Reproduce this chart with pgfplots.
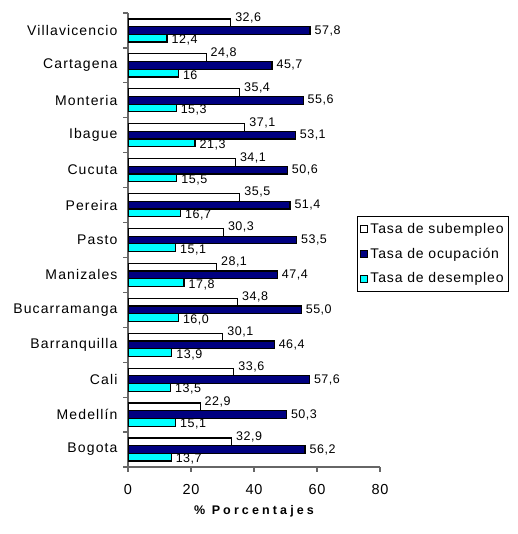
\documentclass[border=0pt]{standalone}
\usepackage{fontspec}
\setmainfont{Liberation Sans}[LetterSpace=8]
\newfontfamily\xlabfont{Liberation Sans Bold}[LetterSpace=25]
\newfontfamily\numfont{Liberation Sans}[LetterSpace=4]
\newfontfamily\legfont{Liberation Sans}[LetterSpace=6]
\usepackage{pgfplots}
\pgfplotsset{compat=1.18}
\definecolor{navyb}{RGB}{0,0,128}
\definecolor{cyanb}{RGB}{0,255,255}
\pgfplotstableread{
y x lab
0 32.9 32,9
1 22.9 22,9
2 33.6 33,6
3 30.1 30,1
4 34.8 34,8
5 28.1 28,1
6 30.3 30,3
7 35.5 35,5
8 34.1 34,1
9 37.1 37,1
10 35.4 35,4
11 24.8 24,8
12 32.6 32,6
}\subempleo
\pgfplotstableread{
y x lab
0 56.2 56,2
1 50.3 50,3
2 57.6 57,6
3 46.4 46,4
4 55.0 55,0
5 47.4 47,4
6 53.5 53,5
7 51.4 51,4
8 50.6 50,6
9 53.1 53,1
10 55.6 55,6
11 45.7 45,7
12 57.8 57,8
}\ocupacion
\pgfplotstableread{
y x lab
0 13.7 13,7
1 15.1 15,1
2 13.5 13,5
3 13.9 13,9
4 16.0 16,0
5 17.8 17,8
6 15.1 15,1
7 16.7 16,7
8 15.5 15,5
9 21.3 21,3
10 15.3 15,3
11 16 16
12 12.4 12,4
}\desempleo
\begin{document}
\begin{tikzpicture}
\useasboundingbox (0,0) rectangle (517pt,534pt);
\begin{axis}[
  at={(128pt,67pt)}, anchor=south west,
  scale only axis, width=252pt, height=454pt,
  xbar=0pt, bar width=7.7pt,
  xmin=0, xmax=80, xtick={0,20,...,80},
  ymin=-0.5, ymax=12.5,
  ytick={-0.5,0.5,...,12.5}, yticklabels={},
  extra y ticks={0,1,...,12},
  extra y tick labels={Bogota,Medellín,Cali,Barranquilla,Bucarramanga,Manizales,Pasto,Pereira,Cucuta,Ibague,Monteria,Cartagena,Villavicencio},
  extra y tick style={major tick length=0pt, tick label style={xshift=-7pt}},
  axis x line*=bottom, axis y line*=left,
  axis line style={black!60, line width=1.2pt, -},
  tick align=outside, major tick length=5pt,
  tick style={black!60, line width=1.2pt},
  tick label style={font=\fontsize{14}{16}\selectfont},
  xticklabel style={font=\numfont\fontsize{14.5}{16}\selectfont, yshift=-9pt},
  /pgf/number format/assume math mode=true,
  xlabel={\xlabfont\fontsize{12.5}{14}\selectfont\% Porcentajes},
  xlabel style={yshift=-4pt},
  point meta=explicit symbolic,
  nodes near coords,
  nodes near coords style={font=\numfont\fontsize{12.5}{14}\selectfont, anchor=west, inner sep=2pt, xshift=2pt},
  reverse legend,
  legend cell align=left,
  legend image code/.code={\draw[#1, draw=black, line width=1pt] (0pt,-3.5pt) rectangle (7pt,3.5pt);},
  legend style={at={(0.909,0.553)}, anchor=north west, draw=black, line width=0.8pt,
    font=\legfont\fontsize{14}{16}\selectfont, row sep=9pt, inner xsep=3pt, inner ysep=5pt},
]
\addplot[fill=cyanb, draw=black, line width=1.2pt, every node near coord/.append style={yshift=-2pt}]
  table[x=x, y=y, meta=lab] {\desempleo};
\addplot[fill=navyb, draw=black, line width=1.2pt]
  table[x=x, y=y, meta=lab] {\ocupacion};
\addplot[fill=white, draw=black, line width=1.2pt, every node near coord/.append style={yshift=5pt}]
  table[x=x, y=y, meta=lab] {\subempleo};
\legend{Tasa de desempleo, Tasa de ocupación, Tasa de subempleo}
\end{axis}
\end{tikzpicture}
\end{document}
